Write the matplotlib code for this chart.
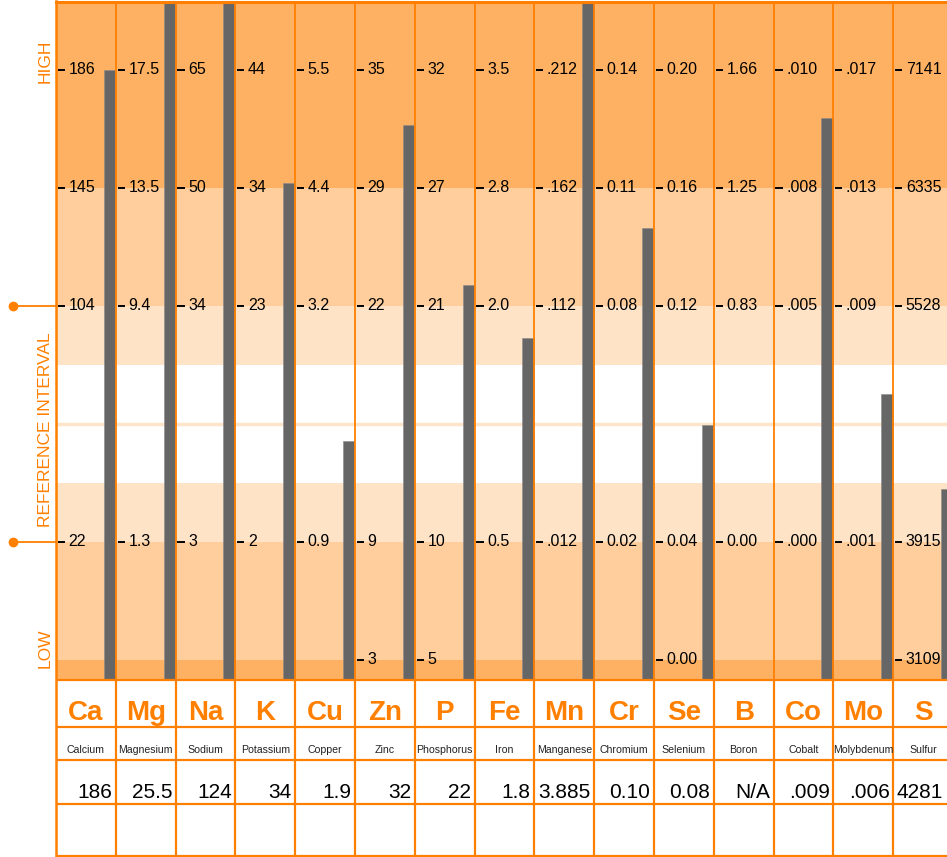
import numpy as np
import matplotlib
matplotlib.use('Agg')
import matplotlib.pyplot as plt

# elements, left to right
symbols = ['Ca', 'Mg', 'Na', 'K', 'Cu', 'Zn', 'P', 'Fe', 'Mn', 'Cr', 'Se', 'B', 'Co', 'Mo', 'S']
names = ['Calcium', 'Magnesium', 'Sodium', 'Potassium', 'Copper', 'Zinc', 'Phosphorus', 'Iron',
         'Manganese', 'Chromium', 'Selenium', 'Boron', 'Cobalt', 'Molybdenum', 'Sulfur']
results = ['186', '25.5', '124', '34', '1.9', '32', '22', '1.8', '3.885', '0.10', '0.08', 'N/A',
           '.009', '.006', '4281']

# bar tops on the reference scale (0 = low mark ... 5 = high mark), 6 = off the top, nan = no bar
bar_level = [5.0, 6, 6, 4.04, 1.86, 4.53, 3.18, 2.73, 6, 3.66, 1.99, np.nan, 4.59, 2.25, 1.45]

# scale labels per column
tick_5 = ['186', '17.5', '65', '44', '5.5', '35', '32', '3.5', '.212', '0.14', '0.20', '1.66', '.010', '.017', '7141']
tick_4 = ['145', '13.5', '50', '34', '4.4', '29', '27', '2.8', '.162', '0.11', '0.16', '1.25', '.008', '.013', '6335']
tick_3 = ['104', '9.4', '34', '23', '3.2', '22', '21', '2.0', '.112', '0.08', '0.12', '0.83', '.005', '.009', '5528']
tick_1 = ['22', '1.3', '3', '2', '0.9', '9', '10', '0.5', '.012', '0.02', '0.04', '0.00', '.000', '.001', '3915']
tick_0 = ['', '', '', '', '', '3', '5', '', '', '', '0.00', '', '', '', '3109']

ORANGE = '#FF8000'
DARK = '#FFB163'
MID = '#FFCE9C'
LIGHT = '#FFE3C7'
BAR = '#666666'
FONT = ['Liberation Sans', 'DejaVu Sans']

W, H = 947.0, 857.0


def px_box(x0, y0, x1, y1):
    return [x0 / W, 1 - y1 / H, (x1 - x0) / W, (y1 - y0) / H]


fig = plt.figure(figsize=(W / 100, H / 100), dpi=100)

# ---- chart part
ax = fig.add_axes(px_box(56, 2, 953, 680))
ymin, ymax = -20 / 118., 658 / 118.
ax.set_xlim(0, 15)
ax.set_ylim(ymin, ymax)
ax.axis('off')

bands = [(ymin, 0, DARK), (0, 1, MID), (1, 1.5, LIGHT), (1.5, 2.5, 'white'),
         (2.5, 3, LIGHT), (3, 4, MID), (4, ymax, DARK)]
for lo, hi, c in bands:
    ax.axhspan(lo, hi, color=c, lw=0, zorder=0)
ax.axhline(2, color='#FEE4C8', lw=2.5, zorder=0.5)

x = np.arange(len(symbols))
lev = np.array(bar_level, dtype=float)
ok = ~np.isnan(lev)
ax.bar(x[ok] + 0.80, lev[ok] - ymin, bottom=ymin, width=0.19, align='edge',
       color=BAR, edgecolor='#8a8a8a', lw=0.4, zorder=2)

ax.vlines(np.arange(1, 15), ymin, ymax - 0.02, color=ORANGE, lw=1.3, zorder=3)
ax.axhline(ymax, color=ORANGE, lw=2.2, clip_on=False, zorder=3)

for level, labels in [(5, tick_5), (4, tick_4), (3, tick_3), (1, tick_1), (0, tick_0)]:
    for i, lab in enumerate(labels):
        if lab == '':
            continue
        ax.plot([i + 0.03, i + 0.15], [level, level], color='black', lw=1.4,
                solid_capstyle='butt', zorder=4)
        ax.text(i + 0.21, level, lab, ha='left', va='center', fontsize=11.5,
                family=FONT, color='black', zorder=4)

# side labels
ax.text(-0.18, 5.07, 'HIGH', rotation=90, ha='center', va='center', color=ORANGE,
        fontsize=12.5, family=FONT)
ax.text(-0.18, 0.10, 'LOW', rotation=90, ha='center', va='center', color=ORANGE,
        fontsize=12.5, family=FONT)
ax.text(-0.18, 1.95, 'REFERENCE INTERVAL', rotation=90, ha='center', va='center',
        color=ORANGE, fontsize=12.5, family=FONT)
for level in [3, 1]:
    ax.plot([-0.65, 0], [level, level], color=ORANGE, lw=1.3, clip_on=False)
    ax.plot([-0.72], [level], 'o', ms=6, color=ORANGE, clip_on=False)

# ---- table part
tb = fig.add_axes(px_box(56, 680, 953, 857))
tb.set_xlim(0, 15)
tb.set_ylim(177, 0)
tb.axis('off')
tb.hlines([0, 47, 80, 124, 175.5], 0, 15, color=ORANGE, lw=1.6, clip_on=False)
tb.vlines(np.arange(1, 16), 0, 175.5, color=ORANGE, lw=1.6)

last_x = (943 - 56) / 59.8   # last column is cut by the picture edge
for i in range(len(symbols)):
    tb.text(i + 0.5, 40, symbols[i], ha='center', va='baseline', color=ORANGE,
            fontsize=20, fontweight='bold', family=FONT)
    tb.text(i + 0.5, 73, names[i], ha='center', va='baseline', color='#222222',
            fontsize=7.6, family=FONT)
    tb.text(min(i + 0.94, last_x), 118, results[i], ha='right', va='baseline',
            color='black', fontsize=15, family=FONT)

# left border runs through chart and table
fig.add_artist(plt.Line2D([56 / W, 56 / W], [1 - 1 / H, 1 - 856 / H], color=ORANGE, lw=1.8))

fig.savefig('out.png', dpi=100)
